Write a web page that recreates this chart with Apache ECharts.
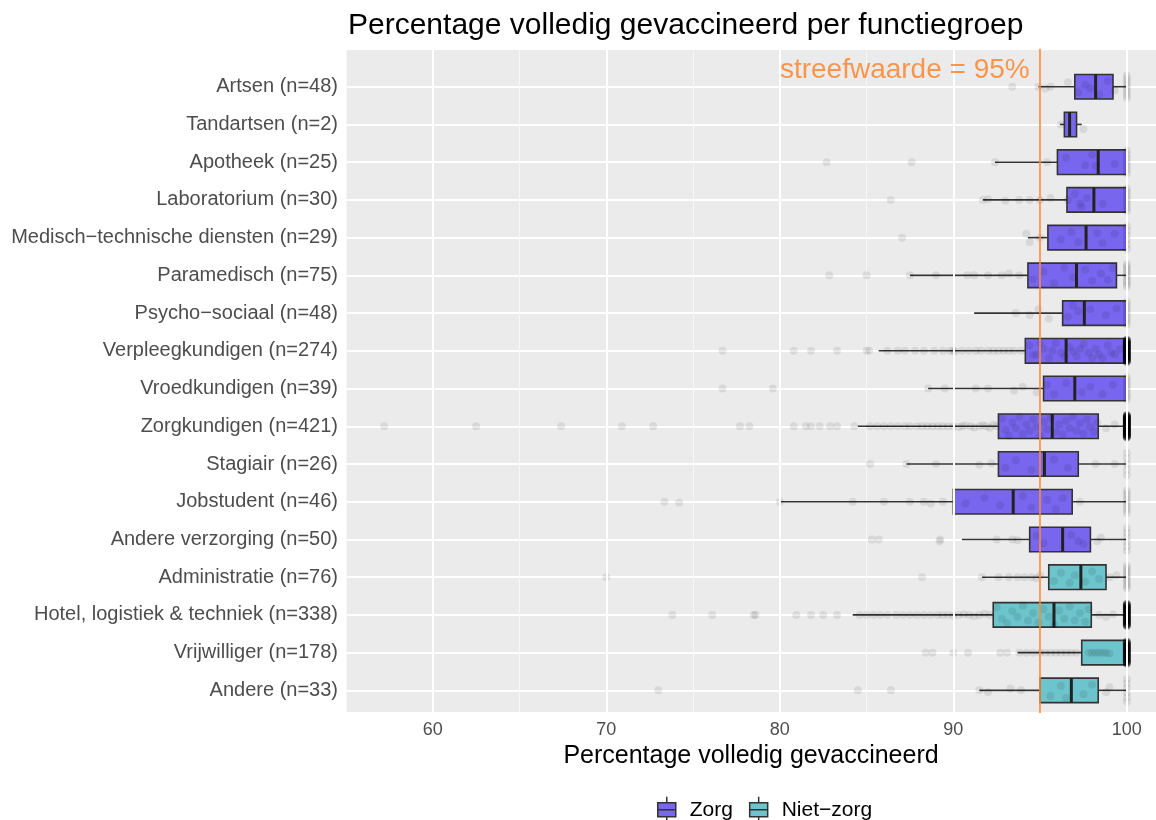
<!DOCTYPE html>
<html><head><meta charset="utf-8">
<script src="https://cdn.jsdelivr.net/npm/echarts@6/dist/echarts.min.js"></script>
<style>html,body{margin:0;padding:0;background:#fff}#c{width:1156px;height:820px}</style>
</head><body><div id="c"></div>
<script>
// ---------- data ----------
const categories = ['Artsen (n=48)','Tandartsen (n=2)','Apotheek (n=25)','Laboratorium (n=30)','Medisch\u2212technische diensten (n=29)','Paramedisch (n=75)','Psycho\u2212sociaal (n=48)','Verpleegkundigen (n=274)','Vroedkundigen (n=39)','Zorgkundigen (n=421)','Stagiair (n=26)','Jobstudent (n=46)','Andere verzorging (n=50)','Administratie (n=76)','Hotel, logistiek & techniek (n=338)','Vrijwilliger (n=178)','Andere (n=33)'];
const groups = ['Zorg','Zorg','Zorg','Zorg','Zorg','Zorg','Zorg','Zorg','Zorg','Zorg','Zorg','Zorg','Zorg','Niet-zorg','Niet-zorg','Niet-zorg','Niet-zorg'];
const whiskerLow  = [94.9, 96.15, 92.4, 91.7, 94.3, 87.5, 91.2, 85.7, 88.55, 84.5, 87.3, 80.0, 90.5, 91.65, 84.2, 93.7, 91.5];
const q1          = [97.0, 96.4, 96.0, 96.55, 95.45, 94.3, 96.3, 94.15, 95.2, 92.6, 92.6, 90.0, 94.4, 95.5, 92.3, 97.4, 95.0];
const median      = [98.2, 96.7, 98.35, 98.1, 97.65, 97.1, 97.55, 96.5, 97.0, 95.7, 95.25, 93.45, 96.3, 97.35, 95.8, 100, 96.8];
const q3          = [99.2, 97.1, 100, 100, 100, 99.4, 100, 100, 100, 98.35, 97.2, 96.85, 97.9, 98.8, 97.95, 100, 98.35];
const whiskerHigh = [100, 97.4, 100, 100, 100, 100, 100, 100, 100, 100, 100, 100, 100, 100, 100, 100, 100];
// number of observations at exactly 100% per group (stacked at the right edge)
const countAt100  = [8, 0, 7, 8, 6, 10, 8, 120, 8, 150, 5, 8, 6, 10, 120, 110, 6];
// other individual observations per group: [percentage, vertical jitter]
const obs = [
 [[93.4,0],[94.9,0],[95.3,0.05],[95.6,0],[96.6,-0.12],[97.2,0.15],[97.6,-0.05],[97.9,0.05],[98.4,0.2],[98.9,-0.15],[99.3,0.1]],
 [[96.2,0],[97.5,0.12]],
 [[82.7,0],[87.6,0],[92.4,0],[95.4,0],[96.5,-0.12],[97.6,0.08],[98.0,-0.2],[98.2,0.1],[99.3,0.05]],
 [[86.4,0],[91.7,0],[92.0,-0.02],[93.0,0.02],[93.8,0],[94.4,0],[95.0,0],[95.6,-0.05],[96.6,0],[97.0,-0.15],[97.3,0.1],[97.4,0.18],[97.7,-0.05],[98.6,0.1]],
 [[87.05,0],[94.2,-0.1],[94.4,0.12],[95.0,0],[96.2,0.05],[96.8,-0.15],[97.2,0.12],[98.3,-0.12],[98.6,0.15],[99.3,-0.1]],
 [[82.85,0],[85.0,0],[87.5,0],[89.0,0],[90.8,0],[91.2,0],[92.0,0],[92.8,0],[93.2,-0.05],[93.8,0],[94.6,0.1],[95.2,-0.1],[95.8,0.2],[96.4,-0.2],[96.9,0.05],[97.6,-0.15],[98.0,0.15],[98.5,-0.05],[98.9,0.12],[99.2,-0.2]],
 [[93.6,0],[94.4,0.05],[94.9,-0.1],[95.5,0.15],[96.6,0.1],[96.9,-0.2],[97.2,-0.05],[97.9,-0.1],[98.8,0.05],[99.4,-0.12]],
 [[76.7,0],[80.8,0],[81.8,0],[83.3,0],[85.0,0],[85.15,0],[86.2,0],[86.8,0],[87.2,0],[87.8,0],[88.3,0],[88.9,0],[89.4,0],[89.8,0],[90.0,0],[90.1,0.02],[90.5,0],[90.9,0],[91.3,0],[91.6,0],[92.0,0],[92.3,0],[92.6,0],[92.9,0],[93.2,0],[93.5,0],[93.9,0],
  [94.4,-0.15],[94.6,0.12],[94.8,0.1],[95.0,-0.2],[95.2,-0.05],[95.5,0.2],[95.7,0],[95.9,-0.2],[96.2,0.05],[96.4,0.15],[96.7,-0.1],[96.9,0.02],[97.1,0.15],[97.3,-0.05],[97.5,-0.18],[97.8,0.05],[98.0,0.2],[98.2,-0.05],[98.4,0.1],[98.6,0.2],[98.9,-0.15],[99.1,0.05],[99.3,0.1],[99.6,-0.05]],
 [[76.7,0],[79.6,0],[88.55,0],[89.5,0],[91.3,0],[92.0,0],[93.5,0.05],[94.0,-0.05],[94.8,0.1],[95.4,-0.1],[95.8,0.15],[96.5,-0.15],[97.4,0.1],[97.9,-0.05],[98.6,0.15],[99.2,-0.1]],
 [[57.2,0],[62.5,0],[67.4,0],[70.9,0],[72.7,0],[77.7,0],[78.25,0],[80.8,0],[81.5,0],[81.8,0],[82.3,0],[82.9,0],[83.3,0],[84.3,0],
  [85.2,0],[85.6,0],[86.0,0],[86.4,0],[86.8,0],[87.2,0],[87.5,0],[87.9,0],[88.2,0],[88.5,0],[88.8,0],[89.1,0],[89.4,0],[89.7,0],[90.0,0],[90.3,0.02],[90.5,0],[90.7,-0.02],[91.0,0],[91.2,0.03],[91.5,0],[91.7,-0.03],[91.9,0],[92.1,0.04],[92.3,-0.04],[92.5,0],
  [92.8,-0.2],[93.0,0.1],[93.2,0.25],[93.4,-0.1],[93.6,0.05],[93.8,-0.25],[94.0,0.2],[94.2,-0.05],[94.4,0.12],[94.6,-0.18],[94.8,0.02],[95.0,0.25],[95.2,-0.12],[95.4,0.08],[95.6,-0.22],[95.9,0.15],[96.1,-0.05],[96.3,0.22],[96.5,-0.15],[96.7,0.05],[96.9,-0.25],[97.1,0.12],[97.3,-0.08],[97.5,0.2],[97.7,-0.18],[97.9,0.02],[98.1,0.15],[98.3,-0.1],[98.8,0.05],[99.3,-0.05]],
 [[85.2,0],[87.3,0],[89.0,0],[91.5,0.02],[92.2,-0.02],[93.0,0.1],[93.6,-0.1],[94.5,0.15],[95.8,-0.12],[96.6,0.1],[98.2,0],[99.3,0]],
 [[73.35,0],[74.2,0.02],[80.0,0],[84.2,0],[86.0,0],[87.5,0],[88.3,0],[88.7,0.05],[89.4,0],[90.7,0.05],[91.8,-0.1],[92.7,0.1],[94.0,-0.15],[94.5,0.15],[95.4,-0.05],[95.9,0.2],[96.3,-0.1],[97.3,0]],
 [[85.3,0],[85.7,0],[89.25,0],[89.2,0.05],[92.5,0],[93.4,0],[93.7,0.02],[94.8,-0.1],[95.2,0.1],[96.8,-0.12],[97.2,0.05],[97.5,0.12],[98.3,0.05],[98.5,-0.05]],
 [[70.0,0],[88.2,0],[91.65,0],[92.6,0],[93.2,0],[93.7,0],[94.1,0],[94.5,0],[94.8,0.03],[95.0,-0.05],[95.8,0.1],[96.2,-0.12],[96.7,0.15],[97.0,-0.05],[97.6,0.12],[98.0,-0.15],[98.4,0.05],[99.0,0],[99.4,-0.05]],
 [[73.8,0],[76.1,0],[78.5,0],[78.6,0],[80.95,0],[81.8,0],[82.5,0],[83.3,0],[84.6,0],[85.0,0],[85.4,0],[85.8,0],[86.2,0],[86.7,0],[87.1,0],[87.5,0],[87.9,0],[88.3,0],[88.7,0],[89.1,0],[89.4,0],[89.7,0],[90.0,0.02],[90.3,0],[90.6,-0.02],[90.9,0],[91.2,0.03],[91.5,0],[91.8,-0.03],[92.1,0],
  [92.5,-0.2],[92.8,0.1],[93.1,0.22],[93.4,-0.1],[93.7,0.05],[94.0,-0.25],[94.3,0.15],[94.6,-0.05],[94.9,0.2],[95.2,-0.15],[95.5,0.05],[95.8,0.25],[96.1,-0.12],[96.4,0.1],[96.7,-0.22],[97.0,0.15],[97.3,-0.05],[97.6,0.18],[97.8,-0.15],[98.4,0],[98.8,0.05],[99.2,-0.02]],
 [[88.4,0],[88.8,0],[90.0,0],[90.85,0],[92.7,0],[93.1,0],[93.8,0],[94.2,0],[94.6,0],[95.0,0],[95.3,0],[95.6,0],[95.9,0],[96.2,0],[96.5,0],[96.8,0],[97.1,0],[97.8,0],[98.0,0],[98.2,0],[98.4,0],[98.6,0],[98.8,0],[99.0,0.02]],
 [[73.0,0],[84.5,0],[86.4,0],[91.5,0],[92.0,0.05],[93.3,-0.05],[93.9,0],[95.6,0.15],[96.2,-0.12],[96.5,0.2],[97.5,0.1],[98.0,-0.15],[98.8,0.05],[99.0,-0.08]]
];
const xTicks = [60, 70, 80, 90, 100];
const target = 95;
const targetLabel = 'streefwaarde = 95%';
const groupColors = {'Zorg': '#7866EE', 'Niet-zorg': '#6CC4CC'};

// ---------- build ----------
function boxData(g) {
  const out = [];
  categories.forEach((c, i) => { if (groups[i] === g) out.push([i, whiskerLow[i], q1[i], median[i], q3[i], whiskerHigh[i]]); });
  return out;
}
const pointData = [];
obs.forEach((arr, i) => arr.forEach(p => pointData.push([p[0], i + p[1]])));
countAt100.forEach((n, i) => {
  for (let k = 0; k < n; k++) {
    const dy = n === 1 ? 0 : -0.3 + 0.6 * k / (n - 1);
    pointData.push([100, i + dy]);
  }
});

const HALF = 0.325;
function renderBox(params, api) {
  const row = api.value(0);
  const lo = api.coord([api.value(1), row]);
  const b1 = api.coord([api.value(2), row - HALF]);
  const md = api.coord([api.value(3), row]);
  const b3 = api.coord([api.value(4), row + HALF]);
  const hi = api.coord([api.value(5), row]);
  const color = api.visual('color');
  const top = b1[1], bot = b3[1];
  const st = {stroke: '#333333', lineWidth: 1.6};
  return {type: 'group', children: [
    {type: 'line', shape: {x1: lo[0], y1: lo[1], x2: b1[0], y2: lo[1]}, style: st},
    {type: 'line', shape: {x1: b3[0], y1: hi[1], x2: hi[0], y2: hi[1]}, style: st},
    {type: 'rect', shape: {x: b1[0], y: top, width: b3[0] - b1[0], height: bot - top}, style: {fill: color, stroke: '#333333', lineWidth: 1.6}},
    {type: 'line', shape: {x1: md[0], y1: top, x2: md[0], y2: bot}, style: {stroke: '#222222', lineWidth: 3}}
  ]};
}

const FONT = '"Liberation Sans", Arial, sans-serif';
const BOX_ICON = 'path://M10,0L10,6M1,6L19,6L19,20L1,20ZM1,13L19,13M10,20L10,26';
const chart = echarts.init(document.getElementById('c'), null, {renderer: 'canvas'});
chart.setOption({
  backgroundColor: '#ffffff',
  animation: false,
  textStyle: {fontFamily: FONT},
  title: {text: 'Percentage volledig gevaccineerd per functiegroep', left: 343, top: 6,
    textStyle: {fontFamily: FONT, fontSize: 30, fontWeight: 'normal', color: '#000'}},
  legend: {data: [{name: 'Zorg'}, {name: 'Niet-zorg'}], left: 652, top: 791, icon: BOX_ICON, itemWidth: 20, itemHeight: 26, itemGap: 16,
    formatter: n => n === 'Niet-zorg' ? 'Niet\u2212zorg' : n,
    itemStyle: {borderColor: '#333333', borderWidth: 1.5},
    textStyle: {fontFamily: FONT, fontSize: 21, color: '#000', padding: [0, 0, 0, 8]}},
  grid: {left: 346, right: 0, top: 49, bottom: 107, show: true, backgroundColor: '#EBEBEB', borderWidth: 0},
  xAxis: {type: 'value', min: 55, max: 101.68, interval: 5,
    axisLine: {show: false}, axisTick: {show: false},
    axisLabel: {formatter: v => (v % 10 === 0 ? String(v) : ''), color: '#4D4D4D', fontSize: 18, margin: 8, fontFamily: FONT, showMaxLabel: false},
    splitLine: {show: true, lineStyle: {color: '#F7F7F7', width: 1}},
    name: 'Percentage volledig gevaccineerd', nameLocation: 'middle', nameGap: 26,
    nameTextStyle: {fontSize: 25, color: '#000', fontFamily: FONT}},
  yAxis: {type: 'value', inverse: true, min: -1, max: 16.6, interval: 1,
    axisLine: {show: false}, axisTick: {show: false},
    axisLabel: {formatter: v => (categories[v] !== undefined ? categories[v] : ''), color: '#4D4D4D', fontSize: 20, margin: 8, fontFamily: FONT, showMaxLabel: false},
    splitLine: {show: true, lineStyle: {color: '#FFFFFF', width: 2}}},
  series: [
    {type: 'scatter', name: 'grid', data: [], z: 1, silent: true,
     markLine: {silent: true, symbol: 'none', label: {show: false},
       lineStyle: {color: '#FFFFFF', width: 2, type: 'solid'},
       data: xTicks.map(t => ({xAxis: t}))}},
    {type: 'custom', name: 'Zorg', renderItem: renderBox, data: boxData('Zorg'), z: 3,
     encode: {x: [1, 2, 3, 4, 5], y: 0},
     itemStyle: {color: groupColors['Zorg'], borderColor: '#333', borderWidth: 1.5}},
    {type: 'custom', name: 'Niet-zorg', renderItem: renderBox, data: boxData('Niet-zorg'), z: 3,
     encode: {x: [1, 2, 3, 4, 5], y: 0},
     itemStyle: {color: groupColors['Niet-zorg'], borderColor: '#333', borderWidth: 1.5}},
    {type: 'scatter', name: 'obs', data: pointData, z: 4, symbolSize: 8, silent: true,
     itemStyle: {color: 'rgba(0,0,0,0.1)'}},
    {type: 'scatter', name: 'target', data: [[94.43, -0.44]], z: 5, symbolSize: 1, silent: true,
     itemStyle: {color: 'rgba(0,0,0,0)'},
     label: {show: true, position: 'left', distance: 0, formatter: targetLabel, color: '#FF7F24', fontSize: 28, fontFamily: FONT},
     markLine: {silent: true, symbol: 'none', label: {show: false},
       lineStyle: {color: '#FF8A33', width: 1.6, type: 'solid'}, data: [{xAxis: target}]}}
  ]
});
</script></body></html>
